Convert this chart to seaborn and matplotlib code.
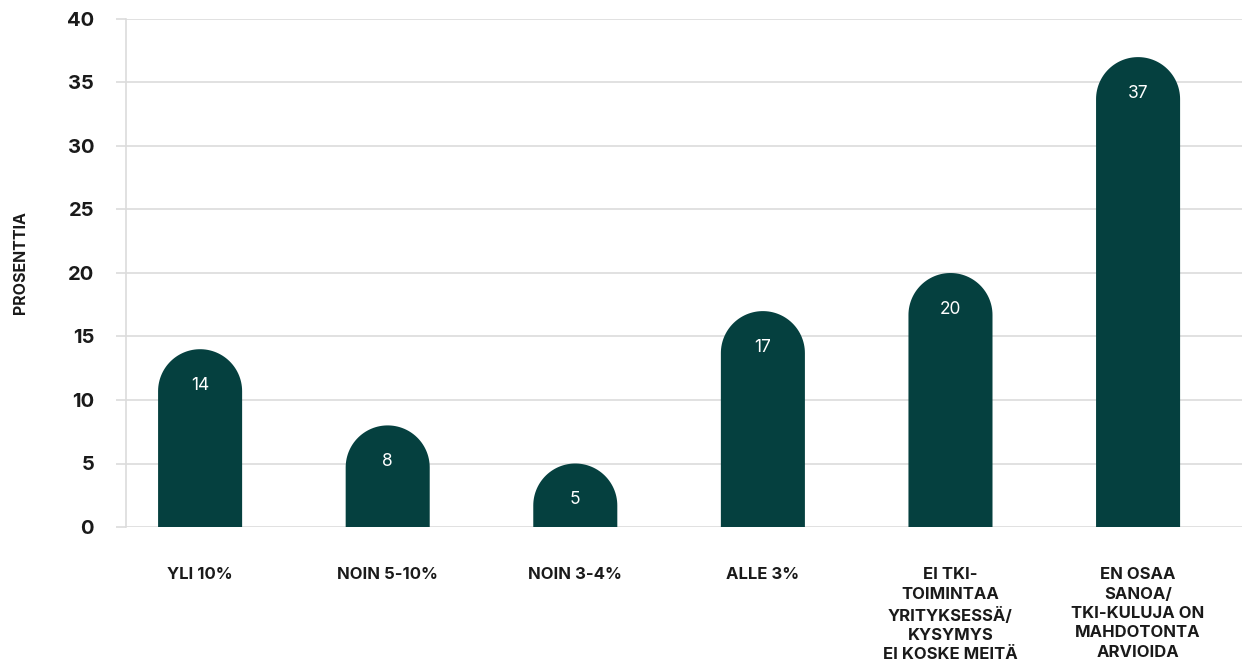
import matplotlib
matplotlib.use("Agg")
import matplotlib.pyplot as plt
from matplotlib.patches import PathPatch
from matplotlib.path import Path
import numpy as np
import seaborn as sns
import pandas as pd

categories = [
    "YLI 10%",
    "NOIN 5-10%",
    "NOIN 3-4%",
    "ALLE 3%",
    "EI TKI-\nTOIMINTAA\nYRITYKSESSÄ/\nKYSYMYS\nEI KOSKE MEITÄ",
    "EN OSAA\nSANOA/\nTKI-KULUJA ON\nMAHDOTONTA\nARVIOIDA",
]
values = [14, 8, 5, 17, 20, 37]
y_ticks = [0, 5, 10, 15, 20, 25, 30, 35, 40]
y_label = "PROSENTTIA"

BAR = "#05403f"
GRID = "#dcdcdc"
INK = "#1a1a1a"
FONT = ["Inter", "DejaVu Sans"]

sns.set_theme(style="white")
plt.rcParams["font.family"] = FONT

df = pd.DataFrame({"cat": categories, "val": values})

fig = plt.figure(figsize=(12.42, 6.63), dpi=100)
ax = fig.add_axes([126 / 1242, 1 - 527 / 663, 1 - 126 / 1242, (527 - 19) / 663])

sns.barplot(data=df, x="cat", y="val", color=BAR, width=0.448, saturation=1,
            ax=ax, zorder=3)

ax.set_ylim(0, 40)
ax.set_xlim(-0.395, 5.554)
ax.set_yticks(y_ticks)
ax.yaxis.grid(True, color=GRID, linewidth=1.2, zorder=0)
ax.set_axisbelow(True)

# rounded cap: half-circle in pixel space, so scale the y radius by the aspect
fig.canvas.draw()
px_per_x = ax.transData.transform((1, 0))[0] - ax.transData.transform((0, 0))[0]
px_per_y = ax.transData.transform((0, 1))[1] - ax.transData.transform((0, 0))[1]

theta = np.linspace(np.pi, 0, 60)
for patch, v in zip(list(ax.patches), values):
    x0 = patch.get_x()
    w = patch.get_width()
    rx = w / 2
    ry = rx * px_per_x / px_per_y
    cx, cy = x0 + rx, v - ry
    arc = np.column_stack([cx + rx * np.cos(theta), cy + ry * np.sin(theta)])
    verts = np.vstack([[x0, 0], [x0, cy], arc, [x0 + w, 0], [x0, 0]])
    codes = [Path.MOVETO] + [Path.LINETO] * (len(verts) - 2) + [Path.CLOSEPOLY]
    patch.set_visible(False)
    ax.add_patch(PathPatch(Path(verts, codes), facecolor=BAR, edgecolor="none",
                           zorder=3))
    ax.text(cx, v - 2.85, str(v), color="white", ha="center", va="center",
            fontsize=12.5, zorder=4)

for s in ["top", "right", "bottom"]:
    ax.spines[s].set_visible(False)
ax.spines["left"].set_color(GRID)
ax.spines["left"].set_linewidth(1.2)

ax.tick_params(axis="y", which="major", length=7, width=1.2, color=GRID,
               pad=16, labelsize=14.5, left=True)
ax.tick_params(axis="x", length=0, pad=29, labelsize=12)
for lbl in ax.get_yticklabels():
    lbl.set_fontweight("bold")
    lbl.set_color(INK)
for lbl in ax.get_xticklabels():
    lbl.set_fontweight("bold")
    lbl.set_color(INK)
    lbl.set_linespacing(1.36)
    lbl.set_va("top")

ax.set_xlabel("")
ax.set_ylabel(y_label, fontsize=11.5, fontweight="bold", color=INK)
ax.yaxis.set_label_coords(-0.088, 0.52)

fig.savefig("out.png", dpi=100)
